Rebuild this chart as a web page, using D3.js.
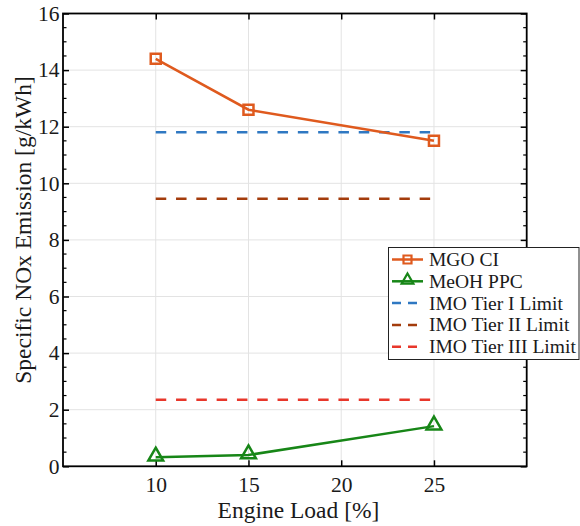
<!DOCTYPE html>
<html><head><meta charset="utf-8">
<script src="https://cdn.jsdelivr.net/npm/d3@7"></script>
<style>body{margin:0;background:#fff;} text{font-family:"Liberation Serif","Times New Roman",serif;}</style>
</head><body>
<svg id="chart" width="580" height="526"></svg>
<script>
const loads = [10, 15, 25];
const mgoCI = [14.4, 12.6, 11.5];
const meohPPC = [0.32, 0.4, 1.42];
const tierLoads = [10, 25];
const tierI = 11.8;
const tierII = 9.45;
const tierIII = 2.35;
const xTicks = [10, 15, 20, 25];
const yTicks = [0, 2, 4, 6, 8, 10, 12, 14, 16];
const legendLabels = ["MGO CI", "MeOH PPC", "IMO Tier I Limit", "IMO Tier II Limit", "IMO Tier III Limit"];

const colors = {mgo: "#df5a1e", meoh: "#178617", t1: "#2f78c2", t2: "#a33c0c", t3: "#e8372b"};

const svg = d3.select("#chart");
const L = 63, R = 526.7, T = 13.5, B = 466.3;
const x = d3.scaleLinear().domain([5, 30]).range([L, R]);
const y = d3.scaleLinear().domain([0, 16]).range([B, T]);

// grid
const g = svg.append("g");
g.selectAll(".gx").data(xTicks).join("line")
  .attr("x1", d => x(d)).attr("x2", d => x(d)).attr("y1", T).attr("y2", B)
  .attr("stroke", "#e3e3e3").attr("stroke-width", 1);
g.selectAll(".gy").data(yTicks).join("line")
  .attr("x1", L).attr("x2", R).attr("y1", d => y(d)).attr("y2", d => y(d))
  .attr("stroke", "#e3e3e3").attr("stroke-width", 1);

// axes
const minorY = d3.range(0, 16.01, 0.5);
const axB = d3.axisBottom(x).tickValues(xTicks).tickSizeInner(-6).tickSizeOuter(0).tickPadding(10);
const axT = d3.axisTop(x).tickValues(xTicks).tickSizeInner(-6).tickSizeOuter(0).tickFormat("");
const axL = d3.axisLeft(y).tickValues(yTicks).tickSizeInner(-6).tickSizeOuter(0).tickPadding(3.5);
const axR = d3.axisRight(y).tickValues(yTicks).tickSizeInner(-6).tickSizeOuter(0).tickFormat("");

function styleAxis(sel) {
  sel.attr("font-family", null);
  sel.select(".domain").remove();
  sel.selectAll(".tick line").attr("stroke", "#000").attr("stroke-width", 1.5);
  sel.selectAll(".tick text").attr("font-size", 21.5).attr("fill", "#1a1a1a");
}
svg.append("g").attr("transform", `translate(0,${B})`).call(axB).call(styleAxis);
svg.append("g").attr("transform", `translate(0,${T})`).call(axT).call(styleAxis);
svg.append("g").attr("transform", `translate(${L},0)`).call(axL).call(styleAxis);
svg.append("g").attr("transform", `translate(${R},0)`).call(axR).call(styleAxis);
// minor y ticks
const minors = minorY.filter(v => v % 2 !== 0);
svg.append("g").selectAll("line").data(minors).join("line")
  .attr("x1", L).attr("x2", L + 3.5).attr("y1", d => y(d)).attr("y2", d => y(d))
  .attr("stroke", "#000").attr("stroke-width", 1.2);
svg.append("g").selectAll("line").data(minors).join("line")
  .attr("x1", R).attr("x2", R - 3.5).attr("y1", d => y(d)).attr("y2", d => y(d))
  .attr("stroke", "#000").attr("stroke-width", 1.2);

svg.append("rect").attr("x", L).attr("y", T).attr("width", R - L).attr("height", B - T)
  .attr("fill", "none").attr("stroke", "#000").attr("stroke-width", 1.8);

// tier lines
const tiers = [[tierI, colors.t1], [tierII, colors.t2], [tierIII, colors.t3]];
const lineGen = d3.line().x(d => x(d[0])).y(d => y(d[1]));
tiers.forEach(([v, c]) => {
  svg.append("path").datum(tierLoads.map(l => [l, v])).attr("d", lineGen)
    .attr("fill", "none").attr("stroke", c).attr("stroke-width", 2.5)
    .attr("stroke-dasharray", "10.5,9.8");
});

// series
const mgoData = loads.map((l, i) => [l, mgoCI[i]]);
const meohData = loads.map((l, i) => [l, meohPPC[i]]);
svg.append("path").datum(mgoData).attr("d", lineGen).attr("fill", "none")
  .attr("stroke", colors.mgo).attr("stroke-width", 2.5);
svg.append("path").datum(meohData).attr("d", lineGen).attr("fill", "none")
  .attr("stroke", colors.meoh).attr("stroke-width", 2.5);

const sq = d3.symbol().type(d3.symbolSquare).size(100);
const tri = d3.symbol().type(d3.symbolTriangle).size(95);
svg.append("g").selectAll("path").data(mgoData).join("path")
  .attr("d", sq).attr("transform", d => `translate(${x(d[0])},${y(d[1])})`)
  .attr("fill", "none").attr("stroke", colors.mgo).attr("stroke-width", 2.5);
svg.append("g").selectAll("path").data(meohData).join("path")
  .attr("d", tri).attr("transform", d => `translate(${x(d[0])},${y(d[1]) - 1})`)
  .attr("fill", "none").attr("stroke", colors.meoh).attr("stroke-width", 2.5);

// axis labels
svg.append("text").attr("x", 298.5).attr("y", 517.5).attr("text-anchor", "middle")
  .attr("font-size", 23.5).attr("fill", "#1a1a1a").text("Engine Load [%]");
svg.append("text").attr("transform", `translate(31,230) rotate(-90)`)
  .attr("text-anchor", "middle").attr("font-size", 23.5).attr("fill", "#1a1a1a")
  .text("Specific NOx Emission [g/kWh]");

// legend
const lg = svg.append("g");
lg.append("rect").attr("x", 388.5).attr("y", 247.5).attr("width", 190.5).attr("height", 112)
  .attr("fill", "#fff").attr("stroke", "#222").attr("stroke-width", 1);
const legColors = [colors.mgo, colors.meoh, colors.t1, colors.t2, colors.t3];
legendLabels.forEach((lab, i) => {
  const cy = 259.5 + i * 21.8;
  const dashed = i >= 2;
  lg.append("line").attr("x1", 392).attr("x2", 423).attr("y1", cy).attr("y2", cy)
    .attr("stroke", legColors[i]).attr("stroke-width", 2.5)
    .attr("stroke-dasharray", dashed ? "9,7" : null);
  if (i === 0) lg.append("path").attr("d", d3.symbol().type(d3.symbolSquare).size(64))
    .attr("transform", `translate(407.5,${cy})`).attr("fill", "none").attr("stroke", legColors[i]).attr("stroke-width", 2.2);
  if (i === 1) lg.append("path").attr("d", d3.symbol().type(d3.symbolTriangle).size(60))
    .attr("transform", `translate(407.5,${cy - 1})`).attr("fill", "none").attr("stroke", legColors[i]).attr("stroke-width", 2.2);
  lg.append("text").attr("x", 429).attr("y", cy + 6.5).attr("font-size", 19.5).attr("fill", "#1a1a1a").text(lab);
});
</script>
</body></html>
